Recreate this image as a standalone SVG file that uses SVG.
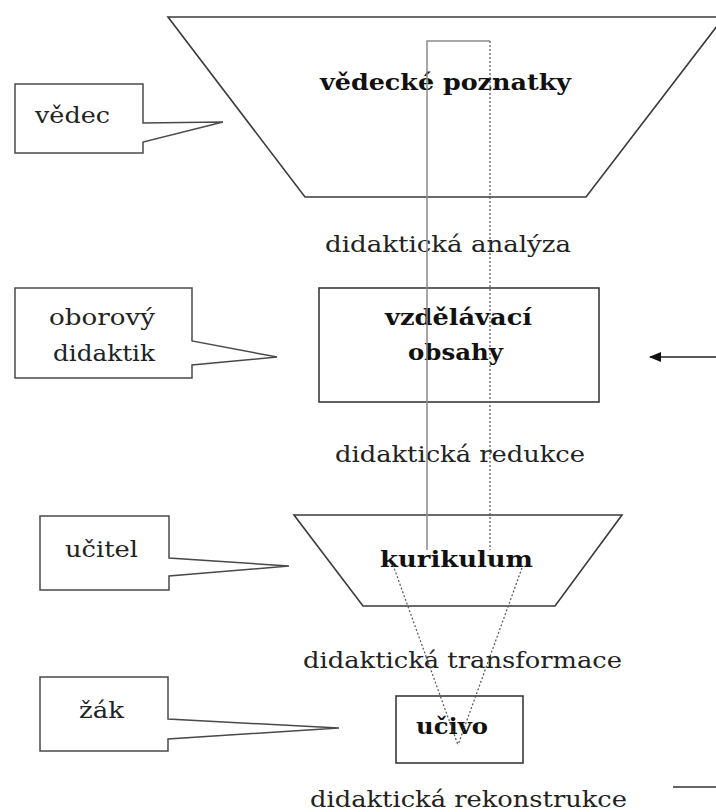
<svg xmlns="http://www.w3.org/2000/svg" width="716" height="812" viewBox="0 0 716 812">
<defs>
<style>
.shape{fill:#fff;stroke:#3a3a3a;stroke-width:1.6}
.call{fill:#fff;stroke:#4a4a4a;stroke-width:1.5}
.t{font-family:"DejaVu Serif","Liberation Serif",serif;font-size:23px;fill:#222}
.b{font-family:"DejaVu Serif","Liberation Serif",serif;font-size:23px;font-weight:bold;fill:#111}
.guide{fill:none;stroke:#8a8a8a;stroke-width:1.5}
.dot{fill:none;stroke:#555;stroke-width:1.2;stroke-dasharray:2 2}
</style>
<marker id="ah" markerWidth="12" markerHeight="10" refX="11" refY="5" orient="auto" markerUnits="userSpaceOnUse">
<path d="M0,0 L12,5 L0,10 Z" fill="#111"/>
</marker>
</defs>
<rect width="716" height="812" fill="#fff"/>

<g id="vedecke-poznatky">
<path class="shape" d="M168,17 L724,17 L586,197 L305,197 Z"/>
<text class="b" x="320" y="90" textLength="251" lengthAdjust="spacingAndGlyphs">vědecké poznatky</text>
</g>

<g id="vzdelavaci-obsahy">
<rect class="shape" x="319" y="288" width="280" height="114"/>
<text class="b" x="385" y="325" textLength="147" lengthAdjust="spacingAndGlyphs">vzdělávací</text>
<text class="b" x="408" y="360" textLength="95" lengthAdjust="spacingAndGlyphs">obsahy</text>
</g>

<g id="kurikulum">
<path class="shape" d="M294,515 L622,515 L555,606 L363,606 Z"/>
<text class="b" x="380" y="567" textLength="153" lengthAdjust="spacingAndGlyphs">kurikulum</text>
</g>

<g id="ucivo">
<rect class="shape" x="396" y="696" width="127" height="67"/>
<text class="b" x="416" y="734" textLength="72" lengthAdjust="spacingAndGlyphs">učivo</text>
</g>

<g id="vedec">
<path class="call" d="M15,84 H143 V123 L223,122 L143,142 V153 H15 Z"/>
<text class="t" x="35" y="123" textLength="75" lengthAdjust="spacingAndGlyphs">vědec</text>
</g>

<g id="oborovy-didaktik">
<path class="call" d="M15,288 H192 V341 L277,357 L192,365 V378 H15 Z"/>
<text class="t" x="49" y="325" textLength="106" lengthAdjust="spacingAndGlyphs">oborový</text>
<text class="t" x="53" y="361" textLength="102" lengthAdjust="spacingAndGlyphs">didaktik</text>
</g>

<g id="ucitel">
<path class="call" d="M40,516 H169 V558 L289,566 L169,576 V590 H40 Z"/>
<text class="t" x="65" y="557" textLength="73" lengthAdjust="spacingAndGlyphs">učitel</text>
</g>

<g id="zak">
<path class="call" d="M40,677 H168 V719 L339,728 L168,739 V751 H40 Z"/>
<text class="t" x="79" y="718" textLength="45" lengthAdjust="spacingAndGlyphs">žák</text>
</g>

<g id="labels">
<text class="t" x="325" y="252" textLength="246" lengthAdjust="spacingAndGlyphs">didaktická analýza</text>
<text class="t" x="335" y="462" textLength="250" lengthAdjust="spacingAndGlyphs">didaktická redukce</text>
<text class="t" x="303" y="668" textLength="319" lengthAdjust="spacingAndGlyphs">didaktická transformace</text>
<text class="t" x="310" y="807" textLength="317" lengthAdjust="spacingAndGlyphs">didaktická rekonstrukce</text>
</g>

<g id="connectors">
<path class="guide" d="M427,550 V41 H490"/>
<path class="dot" d="M490,41 V550"/>
<path class="dot" d="M393,565 L458,745"/>
<path class="dot" d="M522,568 L458,745"/>
<line x1="716" y1="357" x2="650" y2="357" stroke="#222" stroke-width="1.5" marker-end="url(#ah)"/>
<line x1="673" y1="787" x2="716" y2="787" stroke="#666" stroke-width="1.8"/>
</g>
</svg>
